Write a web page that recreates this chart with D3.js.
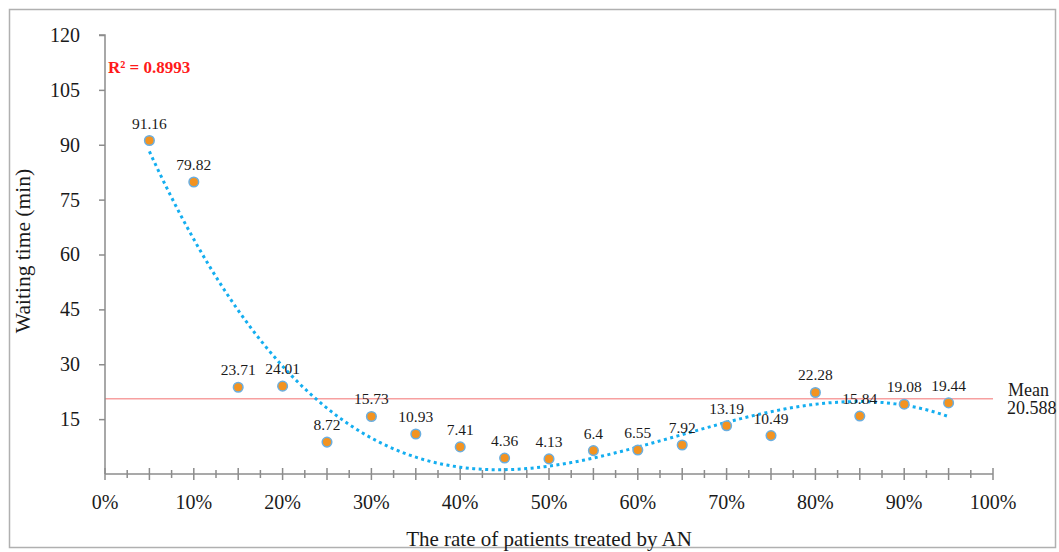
<!DOCTYPE html>
<html>
<head>
<meta charset="utf-8">
<script src="https://cdn.jsdelivr.net/npm/d3@7"></script>
<style>
  body { margin: 0; background: #fff; }
  text { font-family: "Liberation Serif", "Times New Roman", serif; fill: #1a1a1a; }
</style>
</head>
<body>
<div id="chart"></div>
<script>
// rate of patients treated by AN (fraction) and waiting time (min)
const rates = [0.05, 0.10, 0.15, 0.20, 0.25, 0.30, 0.35, 0.40, 0.45, 0.50,
               0.55, 0.60, 0.65, 0.70, 0.75, 0.80, 0.85, 0.90, 0.95];
const waits = [91.16, 79.82, 23.71, 24.01, 8.72, 15.73, 10.93, 7.41, 4.36, 4.13,
               6.4, 6.55, 7.92, 13.19, 10.49, 22.28, 15.84, 19.08, 19.44];
const labels = ['91.16', '79.82', '23.71', '24.01', '8.72', '15.73', '10.93', '7.41', '4.36', '4.13',
                '6.4', '6.55', '7.92', '13.19', '10.49', '22.28', '15.84', '19.08', '19.44'];
const yTicks = [15, 30, 45, 60, 75, 90, 105, 120];
const xTicks = [0, 0.1, 0.2, 0.3, 0.4, 0.5, 0.6, 0.7, 0.8, 0.9, 1.0];
const meanValue = 20.588;
const r2Text = 'R² = 0.8993';

const width = 1059;
const height = 552;
const margin = {left: 105, right: 66, top: 35, bottom: 78};

const svg = d3.select('#chart')
    .append('svg')
    .attr('width', width)
    .attr('height', height);

// outer frame
svg.append('rect')
    .attr('x', 9.5).attr('y', 9.5)
    .attr('width', 1046).attr('height', 538)
    .attr('fill', 'none')
    .attr('stroke', '#b0b0b0')
    .attr('stroke-width', 1.5);

const x = d3.scaleLinear().domain([0, 1]).range([margin.left, width - margin.right]);
const y = d3.scaleLinear().domain([0, 120]).range([height - margin.bottom, margin.top]);

// mean line
svg.append('line')
    .attr('x1', x(0)).attr('x2', x(1))
    .attr('y1', y(meanValue)).attr('y2', y(meanValue))
    .attr('stroke', '#f7a0a0')
    .attr('stroke-width', 1.5);

svg.append('text')
    .attr('x', x(1) + 15).attr('y', y(meanValue) - 3)
    .style('font-size', '18px')
    .text('Mean');
svg.append('text')
    .attr('x', x(1) + 14).attr('y', y(meanValue) + 15)
    .style('font-size', '18px')
    .text(meanValue);

// y axis
const yAxis = svg.append('g')
    .attr('transform', `translate(${x(0)},0)`)
    .call(d3.axisLeft(y).tickValues(yTicks).tickSize(6).tickPadding(19));
yAxis.select('.domain').attr('stroke', '#8c8c8c').attr('stroke-width', 1.5)
    .attr('d', `M0,${y(0)}V${y(120)}h-6`);
yAxis.selectAll('.tick line').attr('stroke', '#8c8c8c').attr('stroke-width', 1.5);
yAxis.selectAll('.tick text')
    .style('font-size', '20px')
    .style('font-family', '"Liberation Serif", serif')
    .attr('fill', '#1a1a1a');

// x axis with crossing ticks every 2.5%
const xAxis = svg.append('g');
xAxis.append('line')
    .attr('x1', x(0)).attr('x2', x(1))
    .attr('y1', y(0)).attr('y2', y(0))
    .attr('stroke', '#8c8c8c').attr('stroke-width', 1.5);
const minor = d3.range(0, 41).map(i => i / 40);
xAxis.selectAll('line.tk')
    .data(minor)
    .join('line')
    .attr('class', 'tk')
    .attr('x1', d => x(d)).attr('x2', d => x(d))
    .attr('y1', (d, i) => y(0) - (i % 2 === 0 ? 6 : 4))
    .attr('y2', (d, i) => y(0) + (i % 2 === 0 ? 6 : 4))
    .attr('stroke', '#8c8c8c').attr('stroke-width', 1.5);
xAxis.selectAll('text')
    .data(xTicks)
    .join('text')
    .attr('x', d => x(d)).attr('y', y(0) + 35)
    .attr('text-anchor', 'middle')
    .style('font-size', '20px')
    .text(d => d3.format('.0%')(d));

// cubic least-squares trendline from the data
function polyfit(xs, ys, order) {
    const n = order + 1;
    const A = Array.from({length: n}, () => new Array(n + 1).fill(0));
    xs.forEach((xv, k) => {
        for (let i = 0; i < n; i++) {
            for (let j = 0; j < n; j++) A[i][j] += Math.pow(xv, i + j);
            A[i][n] += ys[k] * Math.pow(xv, i);
        }
    });
    for (let c = 0; c < n; c++) {
        let p = c;
        for (let r = c + 1; r < n; r++) if (Math.abs(A[r][c]) > Math.abs(A[p][c])) p = r;
        [A[c], A[p]] = [A[p], A[c]];
        for (let r = 0; r < n; r++) {
            if (r === c) continue;
            const f = A[r][c] / A[c][c];
            for (let k = c; k <= n; k++) A[r][k] -= f * A[c][k];
        }
    }
    return A.map((row, i) => row[n] / row[i]);
}
const coef = polyfit(rates, waits, 3);
const fit = t => coef.reduce((s, c, i) => s + c * Math.pow(t, i), 0);
const trend = d3.range(0, 181).map(i => 0.05 + i * 0.005).map(t => [t, fit(t)]);

svg.append('path')
    .datum(trend)
    .attr('fill', 'none')
    .attr('stroke', '#14aef0')
    .attr('stroke-width', 3)
    .attr('stroke-dasharray', '3,3.5')
    .attr('d', d3.line().x(d => x(d[0])).y(d => y(d[1])));

// points
svg.selectAll('circle.pt')
    .data(rates)
    .join('circle')
    .attr('class', 'pt')
    .attr('cx', d => x(d))
    .attr('cy', (d, i) => y(waits[i]))
    .attr('r', 4.8)
    .attr('fill', '#f39320')
    .attr('stroke', '#6aaee0')
    .attr('stroke-width', 1.5);

svg.selectAll('text.lbl')
    .data(rates)
    .join('text')
    .attr('class', 'lbl')
    .attr('x', d => x(d))
    .attr('y', (d, i) => y(waits[i]) - 12)
    .attr('text-anchor', 'middle')
    .style('font-size', '15.5px')
    .text((d, i) => labels[i]);

// R squared
svg.append('text')
    .attr('x', 108).attr('y', 73)
    .style('font-size', '17px')
    .style('font-weight', 'bold')
    .style('fill', '#ff1a1a')
    .text(r2Text);

// axis titles
svg.append('text')
    .attr('x', (x(0) + x(1)) / 2).attr('y', 546)
    .attr('text-anchor', 'middle')
    .style('font-size', '21px')
    .text('The rate of patients treated by AN');

svg.append('text')
    .attr('transform', `translate(30,251) rotate(-90)`)
    .attr('text-anchor', 'middle')
    .style('font-size', '21.5px')
    .text('Waiting time (min)');
</script>
</body>
</html>
